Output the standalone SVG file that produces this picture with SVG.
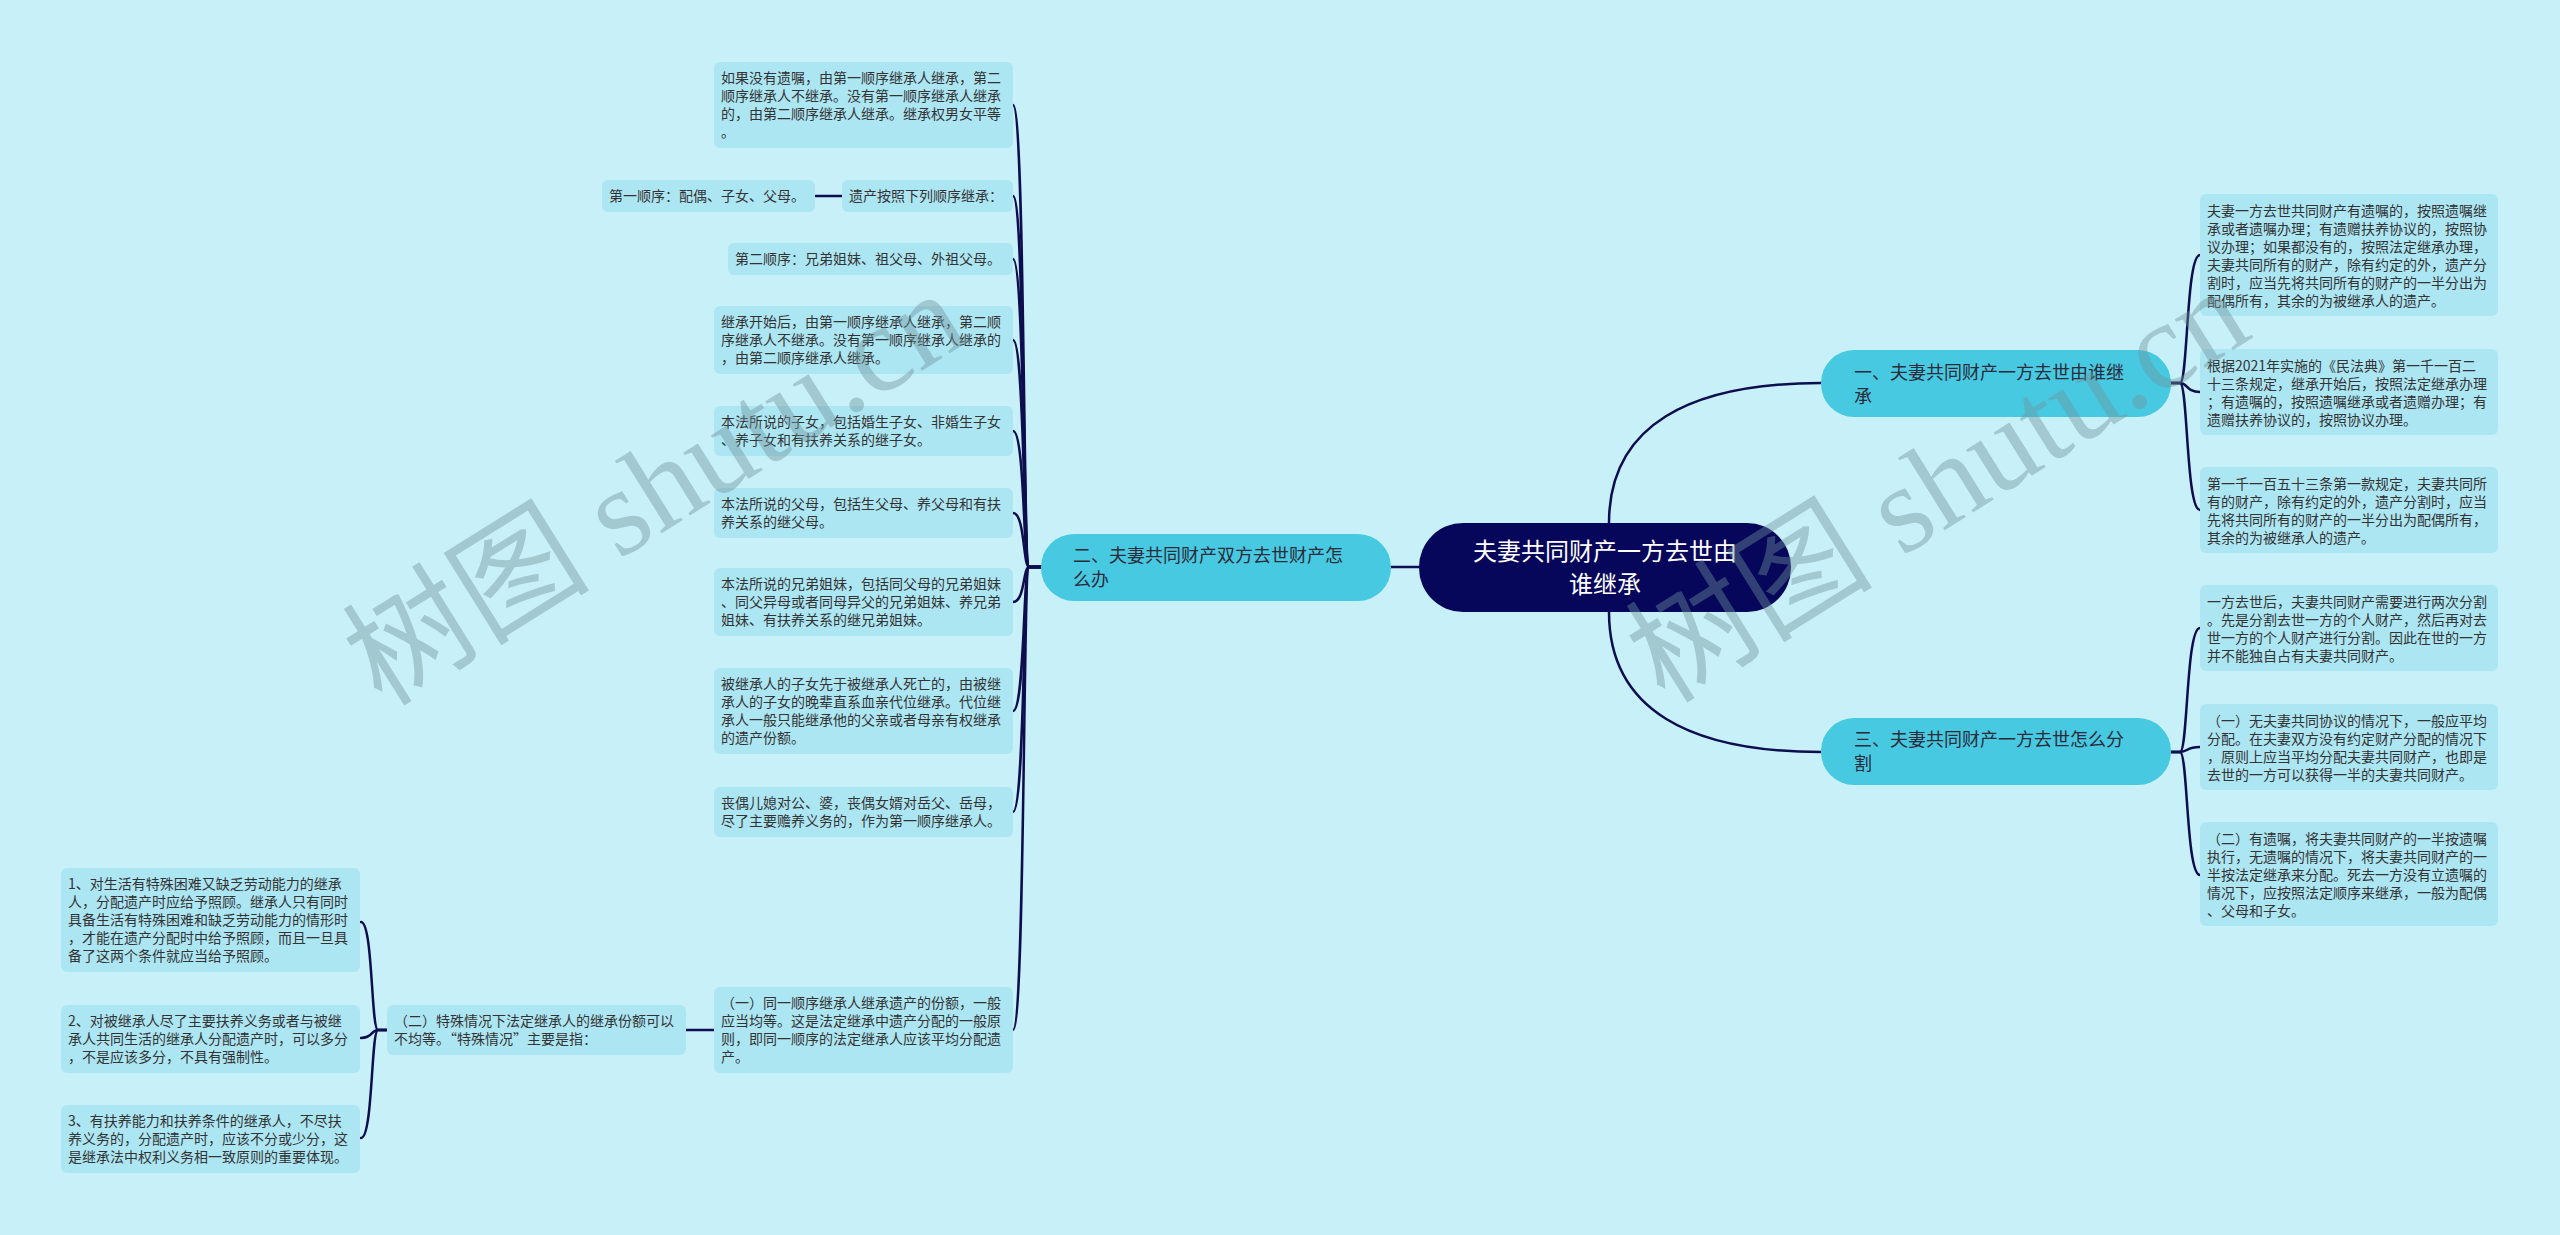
<svg xmlns="http://www.w3.org/2000/svg" width="2560" height="1235" viewBox="0 0 2560 1235">
<style>
.leaf rect{fill:#ade6f3}
.leaf text{font-family:"Noto Sans CJK SC","Noto Sans",sans-serif;font-size:14px;fill:#333}
.branch rect{fill:#47c9e1}
.branch text{font-family:"Noto Sans CJK SC","Noto Sans",sans-serif;font-size:18px;fill:#2b2b3a}
.root rect{fill:#06065a}
.root text{font-family:"Noto Sans CJK SC","Noto Sans",sans-serif;font-size:24px;fill:#ffffff}
.conn path{fill:none;stroke:#0d0d4f;stroke-width:2.5;stroke-linecap:round}
.wm{font-family:"Liberation Serif","Noto Sans CJK SC",serif;font-size:124px;fill:#6f939b;opacity:0.42}
</style>
<rect x="0" y="0" width="2560" height="1235" fill="#c8f0f8"/>

<g id="connectors" class="conn">
  <path d="M1609 523 C1609 425 1690 383 1821 383"/>
  <path d="M1609 612 C1609 710 1690 752 1821 752"/>
  <path d="M1419 567 L1390 567"/>
  <path d="M2171 383 L2180 383 C2188 383 2186 255 2200 255"/>
  <path d="M2171 383 L2180 383 C2188 383 2186 392 2200 392"/>
  <path d="M2171 383 L2180 383 C2188 383 2186 510 2200 510"/>
  <path d="M2171 752 L2180 752 C2188 752 2186 628 2200 628"/>
  <path d="M2171 752 L2180 752 C2188 752 2186 747 2200 747"/>
  <path d="M2171 752 L2180 752 C2188 752 2186 875 2200 875"/>
  <path d="M1041 567 L1029 567 C1023 567 1025 105 1013 105"/>
  <path d="M1041 567 L1029 567 C1023 567 1025 196 1013 196"/>
  <path d="M1041 567 L1029 567 C1023 567 1025 259 1013 259"/>
  <path d="M1041 567 L1029 567 C1023 567 1025 340 1013 340"/>
  <path d="M1041 567 L1029 567 C1023 567 1025 431 1013 431"/>
  <path d="M1041 567 L1029 567 C1023 567 1025 513 1013 513"/>
  <path d="M1041 567 L1029 567 C1023 567 1025 602 1013 602"/>
  <path d="M1041 567 L1029 567 C1023 567 1025 711 1013 711"/>
  <path d="M1041 567 L1029 567 C1023 567 1025 812 1013 812"/>
  <path d="M1041 567 L1029 567 C1023 567 1025 1030 1013 1030"/>
  <path d="M842 196 L815 196"/>
  <path d="M714 1030 L686 1030"/>
  <path d="M387 1030 L378 1030 C371 1030 373 922 361 922"/>
  <path d="M387 1030 L378 1030 C371 1030 373 1038 361 1038"/>
  <path d="M387 1030 L378 1030 C371 1030 373 1138 361 1138"/>
</g>

<g id="root" class="root">
  <rect x="1419" y="523" width="372" height="89" rx="44"/>
  <text text-anchor="middle"><tspan x="1605" y="560">夫妻共同财产一方去世由</tspan><tspan x="1605" y="593">谁继承</tspan></text>
</g>

<g id="b1" class="branch">
  <rect x="1821" y="350" width="350" height="67" rx="33"/>
  <text><tspan x="1854" y="379">一、夫妻共同财产一方去世由谁继</tspan><tspan x="1854" y="403">承</tspan></text>
</g>
<g id="b3" class="branch">
  <rect x="1821" y="718" width="350" height="67" rx="33"/>
  <text><tspan x="1854" y="746">三、夫妻共同财产一方去世怎么分</tspan><tspan x="1854" y="770">割</tspan></text>
</g>
<g id="b2" class="branch">
  <rect x="1041" y="534" width="350" height="67" rx="33"/>
  <text><tspan x="1073" y="562">二、夫妻共同财产双方去世财产怎</tspan><tspan x="1073" y="586">么办</tspan></text>
</g>

<g id="r1a" class="leaf">
  <rect x="2200" y="194" width="298" height="122" rx="6"/>
  <text><tspan x="2207" y="216">夫妻一方去世共同财产有遗嘱的，按照遗嘱继</tspan><tspan x="2207" y="234">承或者遗嘱办理；有遗赠扶养协议的，按照协</tspan><tspan x="2207" y="252">议办理；如果都没有的，按照法定继承办理，</tspan><tspan x="2207" y="270">夫妻共同所有的财产，除有约定的外，遗产分</tspan><tspan x="2207" y="288">割时，应当先将共同所有的财产的一半分出为</tspan><tspan x="2207" y="306">配偶所有，其余的为被继承人的遗产。</tspan></text>
</g>
<g id="r1b" class="leaf">
  <rect x="2200" y="349" width="298" height="86" rx="6"/>
  <text><tspan x="2207" y="371">根据2021年实施的《民法典》第一千一百二</tspan><tspan x="2207" y="389">十三条规定，继承开始后，按照法定继承办理</tspan><tspan x="2207" y="407">；有遗嘱的，按照遗嘱继承或者遗赠办理；有</tspan><tspan x="2207" y="425">遗赠扶养协议的，按照协议办理。</tspan></text>
</g>
<g id="r1c" class="leaf">
  <rect x="2200" y="467" width="298" height="86" rx="6"/>
  <text><tspan x="2207" y="489">第一千一百五十三条第一款规定，夫妻共同所</tspan><tspan x="2207" y="507">有的财产，除有约定的外，遗产分割时，应当</tspan><tspan x="2207" y="525">先将共同所有的财产的一半分出为配偶所有，</tspan><tspan x="2207" y="543">其余的为被继承人的遗产。</tspan></text>
</g>

<g id="r3a" class="leaf">
  <rect x="2200" y="585" width="298" height="86" rx="6"/>
  <text><tspan x="2207" y="607">一方去世后，夫妻共同财产需要进行两次分割</tspan><tspan x="2207" y="625">。先是分割去世一方的个人财产，然后再对去</tspan><tspan x="2207" y="643">世一方的个人财产进行分割。因此在世的一方</tspan><tspan x="2207" y="661">并不能独自占有夫妻共同财产。</tspan></text>
</g>
<g id="r3b" class="leaf">
  <rect x="2200" y="704" width="298" height="86" rx="6"/>
  <text><tspan x="2207" y="726">（一）无夫妻共同协议的情况下，一般应平均</tspan><tspan x="2207" y="744">分配。在夫妻双方没有约定财产分配的情况下</tspan><tspan x="2207" y="762">，原则上应当平均分配夫妻共同财产，也即是</tspan><tspan x="2207" y="780">去世的一方可以获得一半的夫妻共同财产。</tspan></text>
</g>
<g id="r3c" class="leaf">
  <rect x="2200" y="822" width="298" height="104" rx="6"/>
  <text><tspan x="2207" y="844">（二）有遗嘱，将夫妻共同财产的一半按遗嘱</tspan><tspan x="2207" y="862">执行，无遗嘱的情况下，将夫妻共同财产的一</tspan><tspan x="2207" y="880">半按法定继承来分配。死去一方没有立遗嘱的</tspan><tspan x="2207" y="898">情况下，应按照法定顺序来继承，一般为配偶</tspan><tspan x="2207" y="916">、父母和子女。</tspan></text>
</g>

<g id="lA" class="leaf">
  <rect x="714" y="62" width="299" height="86" rx="6"/>
  <text><tspan x="721" y="83">如果没有遗嘱，由第一顺序继承人继承，第二</tspan><tspan x="721" y="101">顺序继承人不继承。没有第一顺序继承人继承</tspan><tspan x="721" y="119">的，由第二顺序继承人继承。继承权男女平等</tspan><tspan x="721" y="137">。</tspan></text>
</g>
<g id="lB" class="leaf">
  <rect x="842" y="180" width="171" height="32" rx="6"/>
  <text><tspan x="849" y="201">遗产按照下列顺序继承：</tspan></text>
</g>
<g id="lC" class="leaf">
  <rect x="602" y="180" width="213" height="32" rx="6"/>
  <text><tspan x="609" y="201">第一顺序：配偶、子女、父母。</tspan></text>
</g>
<g id="lD" class="leaf">
  <rect x="728" y="243" width="285" height="32" rx="6"/>
  <text><tspan x="735" y="264">第二顺序：兄弟姐妹、祖父母、外祖父母。</tspan></text>
</g>
<g id="lE" class="leaf">
  <rect x="714" y="306" width="299" height="68" rx="6"/>
  <text><tspan x="721" y="327">继承开始后，由第一顺序继承人继承，第二顺</tspan><tspan x="721" y="345">序继承人不继承。没有第一顺序继承人继承的</tspan><tspan x="721" y="363">，由第二顺序继承人继承。</tspan></text>
</g>
<g id="lF" class="leaf">
  <rect x="714" y="406" width="299" height="50" rx="6"/>
  <text><tspan x="721" y="427">本法所说的子女，包括婚生子女、非婚生子女</tspan><tspan x="721" y="445">、养子女和有扶养关系的继子女。</tspan></text>
</g>
<g id="lG" class="leaf">
  <rect x="714" y="488" width="299" height="50" rx="6"/>
  <text><tspan x="721" y="509">本法所说的父母，包括生父母、养父母和有扶</tspan><tspan x="721" y="527">养关系的继父母。</tspan></text>
</g>
<g id="lH" class="leaf">
  <rect x="714" y="568" width="299" height="68" rx="6"/>
  <text><tspan x="721" y="589">本法所说的兄弟姐妹，包括同父母的兄弟姐妹</tspan><tspan x="721" y="607">、同父异母或者同母异父的兄弟姐妹、养兄弟</tspan><tspan x="721" y="625">姐妹、有扶养关系的继兄弟姐妹。</tspan></text>
</g>
<g id="lI" class="leaf">
  <rect x="714" y="668" width="299" height="86" rx="6"/>
  <text><tspan x="721" y="689">被继承人的子女先于被继承人死亡的，由被继</tspan><tspan x="721" y="707">承人的子女的晚辈直系血亲代位继承。代位继</tspan><tspan x="721" y="725">承人一般只能继承他的父亲或者母亲有权继承</tspan><tspan x="721" y="743">的遗产份额。</tspan></text>
</g>
<g id="lJ" class="leaf">
  <rect x="714" y="787" width="299" height="50" rx="6"/>
  <text><tspan x="721" y="808">丧偶儿媳对公、婆，丧偶女婿对岳父、岳母，</tspan><tspan x="721" y="826">尽了主要赡养义务的，作为第一顺序继承人。</tspan></text>
</g>
<g id="lK" class="leaf">
  <rect x="714" y="987" width="299" height="86" rx="6"/>
  <text><tspan x="721" y="1008">（一）同一顺序继承人继承遗产的份额，一般</tspan><tspan x="721" y="1026">应当均等。这是法定继承中遗产分配的一般原</tspan><tspan x="721" y="1044">则，即同一顺序的法定继承人应该平均分配遗</tspan><tspan x="721" y="1062">产。</tspan></text>
</g>
<g id="lL" class="leaf">
  <rect x="387" y="1005" width="299" height="50" rx="6"/>
  <text><tspan x="394" y="1026">（二）特殊情况下法定继承人的继承份额可以</tspan><tspan x="394" y="1044">不均等。“特殊情况”主要是指：</tspan></text>
</g>
<g id="lM1" class="leaf">
  <rect x="61" y="868" width="299" height="104" rx="6"/>
  <text><tspan x="68" y="889">1、对生活有特殊困难又缺乏劳动能力的继承</tspan><tspan x="68" y="907">人，分配遗产时应给予照顾。继承人只有同时</tspan><tspan x="68" y="925">具备生活有特殊困难和缺乏劳动能力的情形时</tspan><tspan x="68" y="943">，才能在遗产分配时中给予照顾，而且一旦具</tspan><tspan x="68" y="961">备了这两个条件就应当给予照顾。</tspan></text>
</g>
<g id="lM2" class="leaf">
  <rect x="61" y="1005" width="299" height="68" rx="6"/>
  <text><tspan x="68" y="1026">2、对被继承人尽了主要扶养义务或者与被继</tspan><tspan x="68" y="1044">承人共同生活的继承人分配遗产时，可以多分</tspan><tspan x="68" y="1062">，不是应该多分，不具有强制性。</tspan></text>
</g>
<g id="lM3" class="leaf">
  <rect x="61" y="1105" width="299" height="68" rx="6"/>
  <text><tspan x="68" y="1126">3、有扶养能力和扶养条件的继承人，不尽扶</tspan><tspan x="68" y="1144">养义务的，分配遗产时，应该不分或少分，这</tspan><tspan x="68" y="1162">是继承法中权利义务相一致原则的重要体现。</tspan></text>
</g>

<g id="watermarks">
  <text class="wm" transform="translate(382 708) rotate(-32)">树图 shutu.cn</text>
  <text class="wm" transform="translate(1665 705) rotate(-32)">树图 shutu.cn</text>
</g>
</svg>
